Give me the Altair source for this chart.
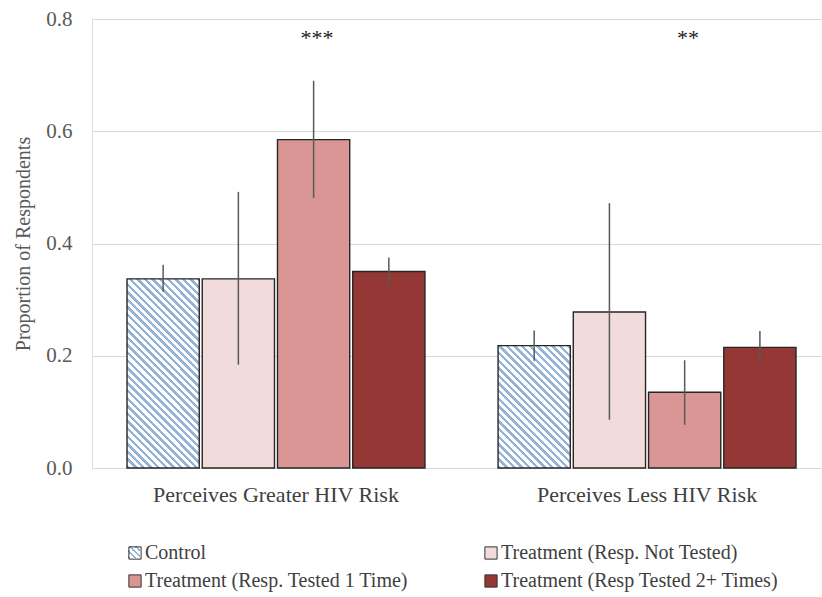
import altair as alt
import pandas as pd

# ---- data -------------------------------------------------------------
groups = ["Perceives Greater HIV Risk", "Perceives Less HIV Risk"]
series = [
    "Control",
    "Treatment (Resp. Not Tested)",
    "Treatment (Resp. Tested 1 Time)",
    "Treatment (Resp Tested 2+ Times)",
]
greater_mean = [0.337, 0.337, 0.585, 0.350]
greater_lo = [0.314, 0.184, 0.481, 0.326]
greater_hi = [0.362, 0.492, 0.690, 0.375]
less_mean = [0.218, 0.278, 0.135, 0.215]
less_lo = [0.191, 0.086, 0.077, 0.187]
less_hi = [0.245, 0.472, 0.192, 0.244]
stars = ["***", "**"]

# Control is hatched: its legend swatch is left open and a hatched key sits beneath it
colors = ["transparent", "#f2dcdb", "#d99694", "#953735"]
hatch_blue = "#95b3d7"

# ---- layout -----------------------------------------------------------
PLOT_W, PLOT_H = 730, 449
Y_MAX = 0.8
PX_PER_UNIT = PLOT_H / Y_MAX
BAR_W = 72.25
FONT = "Liberation Serif"
LEGEND_X, LEGEND_Y = 33, 524
KEY = 12  # legend swatch side, px

rows = []
for g, means, los, his in [
    (groups[0], greater_mean, greater_lo, greater_hi),
    (groups[1], less_mean, less_lo, less_hi),
]:
    for s, m, lo, hi in zip(series, means, los, his):
        rows.append({"group": g, "series": s, "mean": m, "lo": lo, "hi": hi})
df = pd.DataFrame(rows)
star_df = pd.DataFrame({"group": groups, "stars": stars})
key_df = pd.DataFrame({"series": series[:1]})


def hatch(w, h, period=7.6, frac=0.45):
    """Diagonal 45-degree stripes as a linear gradient in bounding-box units."""
    k = (w + h) / (w * w + h * h)
    step = period / (w + h)
    stops = []
    t = 0.0
    while t < 1.0:
        a, b, c = t, min(t + frac * step, 1.0), min(t + step, 1.0)
        stops += [
            {"offset": a, "color": hatch_blue},
            {"offset": b, "color": hatch_blue},
            {"offset": b, "color": "white"},
            {"offset": c, "color": "white"},
        ]
        t += step
    return {"gradient": "linear", "stops": stops,
            "x1": 0, "y1": 1, "x2": k * w, "y2": 1 - k * h}


ctrl = df[df["series"] == "Control"].reset_index(drop=True)
conditions = [
    {"test": f"datum.series === 'Control' && datum.group === '{r.group}'",
     "value": hatch(BAR_W, r["mean"] * PX_PER_UNIT)}
    for _, r in ctrl.iterrows()
]


class HatchedLayerChart(alt.LayerChart):
    """Layer chart whose Control bars and legend key carry a hatched gradient fill."""

    def to_dict(self, *args, **kwargs):
        kwargs["validate"] = False
        spec = super().to_dict(*args, **kwargs)
        if isinstance(spec, dict) and "layer" in spec:
            spec["layer"][0]["encoding"]["fill"]["condition"] = conditions
            spec["layer"][0]["mark"]["fill"] = hatch_blue
            key_mark = spec["layer"][3]["mark"]
            key_mark["fill"] = hatch(KEY, KEY, period=6.0)
        return spec


x_enc = alt.X(
    "group:N",
    sort=groups,
    scale=alt.Scale(paddingInner=0.197, paddingOuter=0.0822, align=0.574),
    axis=alt.Axis(
        title=None,
        domain=False,
        ticks=False,
        labelAngle=0,
        labelFont=FONT,
        labelFontSize=22,
        labelColor="#404040",
        labelPadding=16,
        labelLimit=600,
    ),
)
xoff = alt.XOffset("series:N", sort=series, scale=alt.Scale(paddingInner=0.04, paddingOuter=0))
y_scale = alt.Scale(domain=[0, Y_MAX], nice=False)

bars = (
    alt.Chart(df)
    .mark_bar(stroke="#262626", strokeWidth=1.4)
    .encode(
        x=x_enc,
        xOffset=xoff,
        y=alt.Y(
            "mean:Q",
            scale=y_scale,
            axis=alt.Axis(
                title="Proportion of Respondents",
                values=[0, 0.2, 0.4, 0.6, 0.8],
                format=".1f",
                domain=False,
                ticks=False,
                gridColor="#d9d9d9",
                gridWidth=1.2,
                labelFont=FONT,
                labelFontSize=21,
                labelColor="#595959",
                labelPadding=20,
                titleFont=FONT,
                titleFontSize=20,
                titleFontWeight="normal",
                titleColor="#595959",
                titlePadding=12,
            ),
        ),
        fill=alt.Fill(
            "series:N",
            sort=series,
            scale=alt.Scale(domain=series, range=colors),
            legend=alt.Legend(
                title=None,
                orient="none",
                legendX=LEGEND_X,
                legendY=LEGEND_Y,
                direction="horizontal",
                columns=2,
                columnPadding=72,
                rowPadding=8,
                symbolType="square",
                symbolSize=150,
                symbolStrokeColor="#333333",
                symbolStrokeWidth=1,
                symbolOpacity=1,
                labelFont=FONT,
                labelFontSize=20,
                labelColor="#404040",
                labelOffset=0,
                labelLimit=400,
                padding=0,
            ),
        ),
    )
)

errs = (
    alt.Chart(df)
    .mark_rule(color="#595959", strokeWidth=1.5)
    .encode(x=alt.X("group:N", sort=groups), xOffset=xoff,
            y=alt.Y("lo:Q", scale=y_scale), y2="hi:Q")
)

star_text = (
    alt.Chart(star_df)
    .mark_text(font=FONT, fontSize=22, color="#1a1a1a", dx=41, baseline="middle")
    .encode(x=alt.X("group:N", sort=groups), y=alt.value(19), text="stars:N")
)

# hatched swatch under the (open) Control legend symbol
legend_key = (
    alt.Chart(key_df)
    .mark_rect(strokeWidth=0)
    .encode(
        x=alt.value(LEGEND_X + 3),
        x2=alt.value(LEGEND_X + 3 + KEY),
        y=alt.value(LEGEND_Y + 3),
        y2=alt.value(LEGEND_Y + 3 + KEY),
    )
)

chart = (
    HatchedLayerChart(layer=[bars, errs, star_text, legend_key])
    .properties(
        width=PLOT_W,
        height=PLOT_H,
        autosize=alt.AutoSizeParams(type="none"),
        padding={"left": 92, "top": 19, "right": 0, "bottom": 129},
    )
    .configure_view(stroke=None)
    .configure_axis(labelFont=FONT, titleFont=FONT)
    .configure_legend(labelFont=FONT)
    .configure(background="white")
)

chart.save("out.html", embed_options={"renderer": "svg", "actions": False})
